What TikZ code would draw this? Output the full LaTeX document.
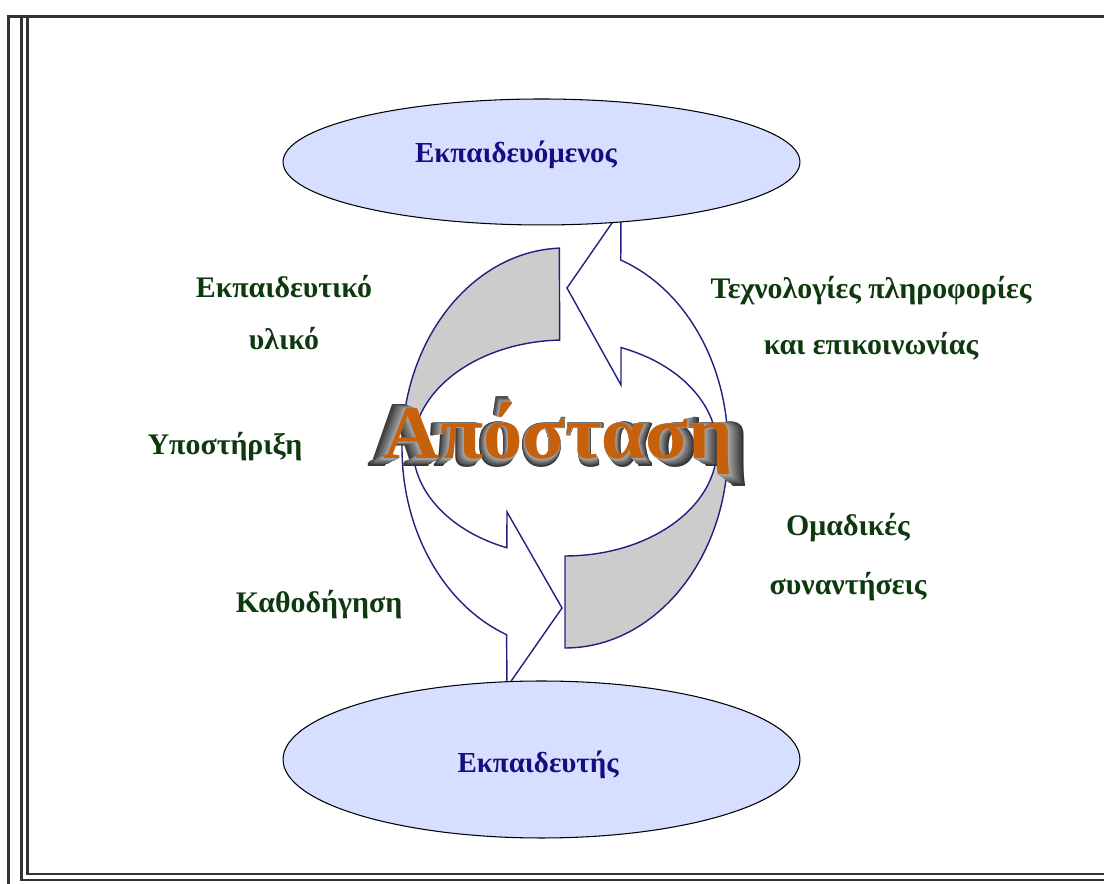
\documentclass[tikz,border=0pt]{standalone}
\usepackage{fontspec}
\setmainfont{Liberation Serif}
\usetikzlibrary{shapes.geometric,calc}
\definecolor{ringblue}{RGB}{32,32,128}
\definecolor{ovalfill}{RGB}{214,223,255}
\definecolor{labelgreen}{RGB}{14,56,14}
\definecolor{ovalblue}{RGB}{24,12,128}
\definecolor{titleorange}{RGB}{198,96,10}
\definecolor{bandgray}{RGB}{204,204,204}
\tikzset{
    oval/.style={ellipse, draw=black, line width=0.6pt, fill=ovalfill, inner sep=0pt},
    ovaltext/.style={font=\fontsize{16.5}{20}\selectfont\bfseries, text=ovalblue},
    sidetext/.style={font=\fontsize{17}{20}\selectfont\bfseries, text=labelgreen, align=center},
    band/.style={draw=ringblue, line width=0.8pt, line join=miter},
    frameline/.style={draw=black!80, line width=1.3pt},
    titletext/.style={font=\fontsize{43}{50}\selectfont\bfseries, anchor=base, inner sep=0pt}
}
\begin{document}
\begin{tikzpicture}[x=0.02cm, y=0.02cm]
    \useasboundingbox (0,0) rectangle (1104,884);

    % frame
    \draw[frameline] (8.5,0) -- (8.5,867.5) -- (1104,867.5);
    \draw[frameline] (21.5,867.5) -- (21.5,4) -- (1104,4);
    \draw[frameline] (27.5,867.5) -- (27.5,10) -- (1104,10);

    % ring of two arrows
    \coordinate (c) at (565,436);
    \fill[bandgray]
        ($(c)+(92:163 and 200)$) arc[start angle=92, end angle=172, x radius=163, y radius=200]
        -- ($(c)+(172:152 and 108)$) arc[start angle=172, end angle=92, x radius=152, y radius=108] -- cycle;
    \fill[bandgray]
        ($(c)+(-90:163 and 200)$) arc[start angle=-90, end angle=-6, x radius=163, y radius=200]
        -- ($(c)+(-6:152 and 108)$) arc[start angle=-6, end angle=-90, x radius=152, y radius=108] -- cycle;
    \draw[band]
        ($(c)+(92:163 and 200)$) arc[start angle=92, end angle=249, x radius=163, y radius=200]
        -- (507,197) -- (562,276) -- (507,372)
        -- ($(c)+(247.5:152 and 108)$) arc[start angle=247.5, end angle=92, x radius=152, y radius=108] -- cycle;
    \draw[band]
        ($(c)+(-90:163 and 200)$) arc[start angle=-90, end angle=70, x radius=163, y radius=200]
        -- (621,674) -- (567,596) -- (621,499)
        -- ($(c)+(68.4:152 and 108)$) arc[start angle=68.4, end angle=-90, x radius=152, y radius=108] -- cycle;

    % the two ovals
    \node[oval, minimum width=10.34cm, minimum height=2.52cm] (learner) at (541.5,722) {};
    \node[ovaltext] (learnername) at (516,729) {Εκπαιδευόμενος};
    \node[oval, minimum width=10.34cm, minimum height=3.14cm] (tutor) at (541.5,124.5) {};
    \node[ovaltext] (tutorname) at (538,119) {Εκπαιδευτής};

    % labels round the ring
    \node[sidetext] (material) at (284,571.5) {Εκπαιδευτικό\\[10pt]υλικό};
    \node[sidetext] (support) at (225,437) {Υποστήριξη};
    \node[sidetext] (guidance) at (319,279) {Καθοδήγηση};
    \node[sidetext] (ict) at (871,565.5) {Τεχνολογίες πληροφορίες\\[12pt]και επικοινωνίας};
    \node[sidetext] (meetings) at (848,326.5) {Ομαδικές\\[13.5pt]συναντήσεις};

    % title with grey depth
    \foreach \i in {12,...,1} {
        \pgfmathtruncatemacro{\depth}{32+4*\i}
        \node[titletext, text=black!\depth, xscale=1.04+0.008*\i, yscale=1+0.02*\i] (depth\i) at (558,425-0.6*\i) {Απόσταση};
    }
    \node[titletext, text=titleorange, xscale=1.04] (distance) at (558,425) {Απόσταση};
\end{tikzpicture}
\end{document}
